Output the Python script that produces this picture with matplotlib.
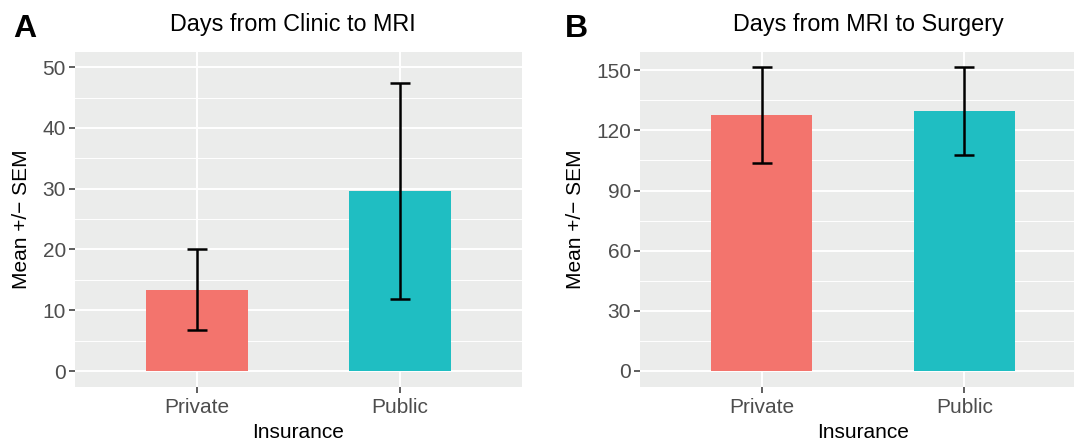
import numpy as np
import matplotlib.pyplot as plt

plt.rcParams['font.family'] = ['Liberation Sans', 'DejaVu Sans']

groups = ["Private", "Public"]
bar_colors = ["#F3746D", "#1FBEC2"]

clinic_mri_mean = [13.4, 29.6]
clinic_mri_sem = [6.7, 17.8]

mri_surg_mean = [127.5, 129.5]
mri_surg_sem = [24.0, 22.0]

W, H = 1074, 441
fig = plt.figure(figsize=(W / 100, H / 100), dpi=100)


def px_axes(left, right, top, bottom):
    return fig.add_axes([left / W, 1 - bottom / H, (right - left) / W, (bottom - top) / H])


def panel(ax, means, sems, ylim, yticks, title, letter, letter_x, title_x):
    x = np.arange(1, len(groups) + 1)
    ax.set_facecolor("#EBECEB")
    ax.bar(x, means, width=0.5, color=bar_colors, zorder=2)
    ax.errorbar(x, means, yerr=sems, fmt="none", ecolor="black",
                elinewidth=1.8, capsize=7.5, capthick=1.8, zorder=3)
    ax.set_xlim(0.4, 2.6)
    ax.set_ylim(*ylim)
    ax.set_xticks(x)
    ax.set_xticklabels(groups)
    ax.set_yticks(yticks)
    step = yticks[1] - yticks[0]
    ax.set_yticks(np.array(yticks[:-1]) + step / 2, minor=True)
    ax.grid(True, which="major", color="white", linewidth=1.4, zorder=0)
    ax.grid(True, which="minor", axis="y", color="white", linewidth=0.7, zorder=0)
    ax.set_axisbelow(True)
    for s in ax.spines.values():
        s.set_visible(False)
    ax.tick_params(axis="both", which="major", length=4, width=1.1, color="#333333",
                   labelcolor="#4D4D4D", labelsize=15, pad=2.5)
    ax.tick_params(axis="x", which="major", pad=4)
    ax.tick_params(which="minor", length=0)
    ax.set_xlabel("Insurance", fontsize=15, labelpad=4)
    ax.set_ylabel("Mean +/\u2212 SEM", fontsize=15, labelpad=8)
    fig.text(title_x / W, 1 - 25 / H, title, fontsize=16.8, ha="center", va="center")
    fig.text(letter_x / W, 1 - 29 / H, letter, fontsize=23, fontweight="bold",
             ha="left", va="center")


axA = px_axes(75, 522, 52, 387)
panel(axA, clinic_mri_mean, clinic_mri_sem, (-2.63, 52.5), [0, 10, 20, 30, 40, 50],
      "Days from Clinic to MRI", "A", 13, 293)

axB = px_axes(640, 1086, 52, 387)
panel(axB, mri_surg_mean, mri_surg_sem, (-7.98, 159.1), [0, 30, 60, 90, 120, 150],
      "Days from MRI to Surgery", "B", 565, 868)

fig.savefig("out.png", dpi=100)
